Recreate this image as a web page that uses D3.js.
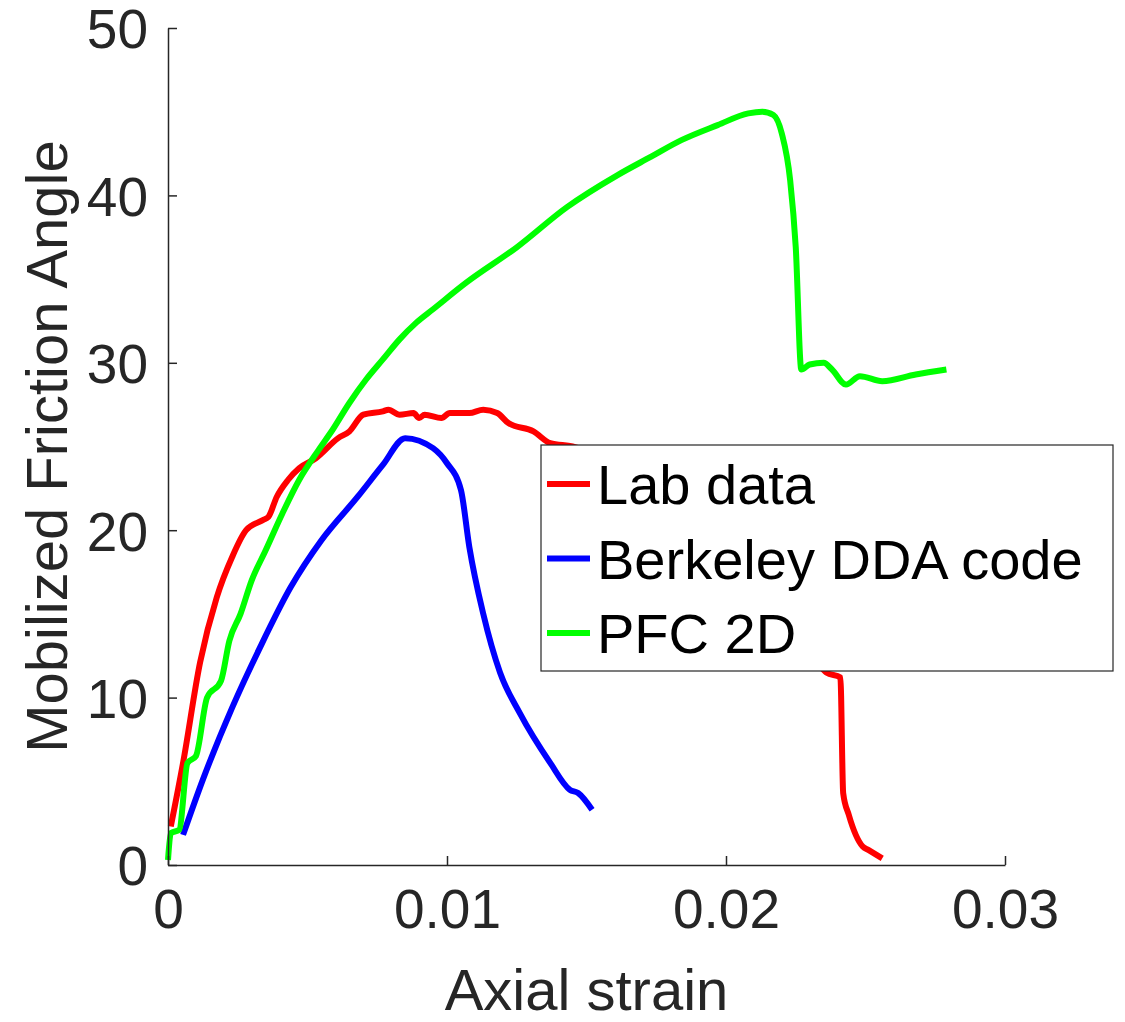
<!DOCTYPE html>
<html>
<head>
<meta charset="utf-8">
<script src="https://cdn.jsdelivr.net/npm/d3@7"></script>
<style>
  body { margin: 0; background: #fff; }
  text { font-family: "Liberation Sans", Arial, sans-serif; fill: #262626; }
</style>
</head>
<body>
<div id="chart"></div>
<script>
// values
const labStrain = [0.0001, 0.00054, 0.00115, 0.00175, 0.0023, 0.0028, 0.0034, 0.0036, 0.0039, 0.0043, 0.0047, 0.0053,
  0.0061, 0.0065, 0.0070, 0.0077, 0.0079, 0.0083, 0.0088, 0.0090, 0.0092, 0.0098, 0.0101, 0.0108, 0.0113, 0.0118, 0.0122,
  0.0131, 0.0137, 0.0145, 0.0165, 0.0195, 0.0220, 0.0233, 0.0236, 0.0241, 0.0242, 0.0244, 0.0249, 0.0251, 0.0256];
const labAngle = [2.3, 6.1, 12.1, 16.0, 18.4, 20.0, 20.6, 20.8, 22.0, 23.0, 23.7, 24.3,
  25.5, 25.9, 26.9, 27.1, 27.2, 26.9, 27.0, 26.7, 26.9, 26.7, 27.0, 27.0, 27.2, 27.0, 26.4,
  25.9, 25.2, 25.0, 23.5, 19.0, 14.5, 12.0, 11.5, 11.2, 4.3, 3.0, 1.1, 0.9, 0.4];

const ddaStrain = [0.00054, 0.00125, 0.0023, 0.0033, 0.0044, 0.0055, 0.0068, 0.0077, 0.0085, 0.0095, 0.0100,
  0.0105, 0.0108, 0.0113, 0.0119, 0.0126, 0.0137, 0.0144, 0.0147, 0.0152];
const ddaAngle = [1.8, 5.1, 9.4, 13.0, 16.6, 19.4, 22.0, 23.9, 25.5, 24.9, 24.0,
  22.4, 19.0, 15.0, 11.5, 9.1, 6.1, 4.5, 4.3, 3.3];

const pfcStrain = [0, 0.0001, 0.0004, 0.0007, 0.0010, 0.0014, 0.0019, 0.0022, 0.0026, 0.0030, 0.0035, 0.0041,
  0.0047, 0.0054, 0.0059, 0.0065, 0.0071, 0.0077, 0.0083, 0.0089, 0.0095, 0.0107, 0.0125, 0.0143, 0.0161,
  0.0173, 0.0184, 0.0197, 0.0208, 0.0213, 0.0217, 0.0220, 0.0223, 0.0225, 0.0227, 0.0230, 0.0235, 0.0238,
  0.0243, 0.0248, 0.0256, 0.0268, 0.0279];
const pfcAngle = [0.3, 1.9, 2.1, 6.1, 6.5, 10.0, 11.0, 13.4, 15.0, 17.0, 18.8, 21.0,
  23.0, 24.8, 26.0, 27.6, 29.0, 30.2, 31.4, 32.4, 33.2, 34.8, 36.9, 39.3, 41.2,
  42.3, 43.3, 44.2, 44.9, 45.0, 44.8, 43.7, 40.9, 36.9, 29.6, 29.9, 30.0, 29.6,
  28.7, 29.2, 28.9, 29.3, 29.6];

const seriesNames = ["Lab data", "Berkeley DDA code", "PFC 2D"];
const seriesColors = ["#ff0000", "#0000ff", "#00ff00"];
const xTicks = [0, 0.01, 0.02, 0.03];
const yTicks = [0, 10, 20, 30, 40, 50];

const W = 1125, H = 1022;
const margin = { top: 28, right: 120, bottom: 157, left: 168 };

const series = [
  { name: seriesNames[0], color: seriesColors[0], pts: labStrain.map((s, i) => [s, labAngle[i]]) },
  { name: seriesNames[1], color: seriesColors[1], pts: ddaStrain.map((s, i) => [s, ddaAngle[i]]) },
  { name: seriesNames[2], color: seriesColors[2], pts: pfcStrain.map((s, i) => [s, pfcAngle[i]]) }
];

let x = d3.scaleLinear().domain([0, 0.03]).range([margin.left, W - margin.right]);
let y = d3.scaleLinear().domain([0, 50]).range([H - margin.bottom, margin.top]);

let svg = d3.select("#chart").append("svg")
  .attr("width", W)
  .attr("height", H);

// lines
let line = d3.line().x(d => x(d[0])).y(d => y(d[1])).curve(d3.curveMonotoneX);
svg.selectAll("path.series")
  .data(series)
  .enter()
  .append("path")
  .attr("class", "series")
  .attr("d", d => line(d.pts))
  .attr("fill", "none")
  .attr("stroke", d => d.color)
  .attr("stroke-width", 6)
  .attr("stroke-linejoin", "round");

// axes, ticks point inward
let xAxis = svg.append("g")
  .attr("transform", "translate(0," + y(0) + ")")
  .call(d3.axisBottom(x).tickValues(xTicks).tickFormat(d => d === 0 ? "0" : d3.format(".2f")(d)).tickSizeInner(-9).tickSizeOuter(0).tickPadding(24));
let yAxis = svg.append("g")
  .attr("transform", "translate(" + x(0) + ",0)")
  .call(d3.axisLeft(y).tickValues(yTicks).tickSizeInner(-9).tickSizeOuter(0).tickPadding(20));

[xAxis, yAxis].forEach(g => {
  g.select(".domain").attr("stroke", "#262626").attr("stroke-width", 1.5);
  g.selectAll(".tick line").attr("stroke", "#262626").attr("stroke-width", 1.5);
  g.selectAll(".tick text").attr("font-size", 55).attr("fill", "#262626")
    .style("font-family", "'Liberation Sans', Arial, sans-serif");
});
yAxis.selectAll(".tick text").attr("dy", "0.36em");

// axis titles
svg.append("text")
  .attr("x", (x(0) + x(0.03)) / 2)
  .attr("y", 1010)
  .attr("text-anchor", "middle")
  .attr("font-size", 58)
  .text("Axial strain");

svg.append("text")
  .attr("transform", "translate(67," + (y(0) + y(50)) / 2 + ") rotate(-90)")
  .attr("text-anchor", "middle")
  .attr("font-size", 58)
  .text("Mobilized Friction Angle");

// legend
let legend = svg.append("g");
legend.append("rect")
  .attr("x", 541).attr("y", 445)
  .attr("width", 572).attr("height", 226)
  .attr("fill", "#fff")
  .attr("stroke", "#262626")
  .attr("stroke-width", 1.2);

let items = legend.selectAll("g.item")
  .data(series)
  .enter()
  .append("g")
  .attr("class", "item")
  .attr("transform", (d, i) => "translate(0," + (484 + i * 74.5) + ")");
items.append("line")
  .attr("x1", 547).attr("x2", 590)
  .attr("stroke", d => d.color)
  .attr("stroke-width", 6);
items.append("text")
  .attr("x", 597)
  .attr("dy", "0.36em")
  .attr("font-size", 56)
  .style("fill", "#000")
  .text(d => d.name);
</script>
</body>
</html>
